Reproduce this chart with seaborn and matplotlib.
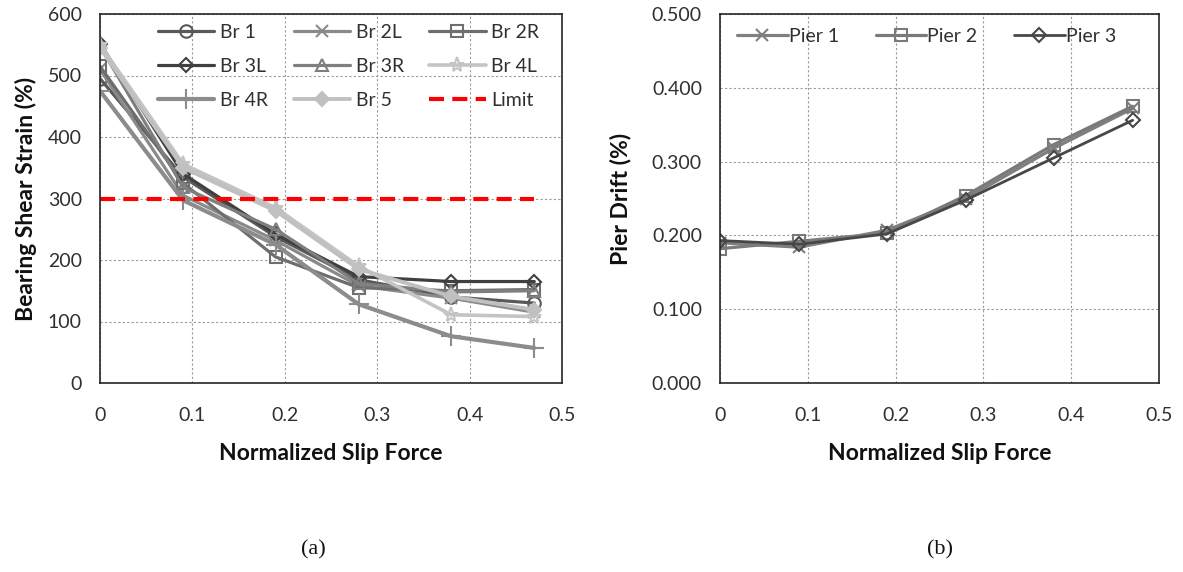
import matplotlib
matplotlib.use("Agg")
import matplotlib.pyplot as plt
import seaborn as sns
import numpy as np
import pandas as pd

# ---- data ----
slip_force = [0, 0.09, 0.19, 0.28, 0.38, 0.47]

br1 = [495, 335, 238, 168, 140, 130]
br2l = [510, 305, 232, 158, 138, 115]
br2r = [515, 325, 205, 155, 150, 152]
br3l = [552, 340, 242, 173, 165, 165]
br3r = [548, 318, 250, 162, 148, 150]
br4l = [550, 356, 285, 190, 111, 108]
br4r = [475, 297, 225, 128, 76, 57]
br5 = [545, 350, 280, 185, 141, 119]
limit_x = [0, 0.47]
limit_y = [300, 300]

pier1 = [0.190, 0.184, 0.207, 0.250, 0.318, 0.372]
pier2 = [0.182, 0.192, 0.203, 0.254, 0.323, 0.375]
pier3 = [0.193, 0.188, 0.202, 0.248, 0.305, 0.356]

bearing_names = ["Br 1", "Br 2L", "Br 2R", "Br 3L", "Br 3R", "Br 4L", "Br 4R", "Br 5"]
bearing_values = [br1, br2l, br2r, br3l, br3r, br4l, br4r, br5]
pier_names = ["Pier 1", "Pier 2", "Pier 3"]
pier_values = [pier1, pier2, pier3]

# ---- style ----
sns.set_theme(style="white")
plt.rcParams["font.family"] = ["Lato", "DejaVu Sans"]

TXT = "#303030"
bearing_styles = {
    "Br 1": dict(color="#595959", marker="o", mfc="none", ms=9, lw=2.3),
    "Br 2L": dict(color="#8a8a8a", marker="x", mfc="none", ms=9, lw=2.3),
    "Br 2R": dict(color="#6e6e6e", marker="s", mfc="none", ms=9, lw=2.3),
    "Br 3L": dict(color="#404040", marker="D", mfc="none", ms=7, lw=2.3),
    "Br 3R": dict(color="#7f7f7f", marker="^", mfc="none", ms=9, lw=2.3),
    "Br 4L": dict(color="#c4c4c4", marker="*", mfc="none", ms=11, lw=2.6),
    "Br 4R": dict(color="#8c8c8c", marker="+", mfc="none", ms=14, lw=3.0),
    "Br 5": dict(color="#c0c0c0", marker="D", mfc="#c0c0c0", ms=7, lw=2.8),
}
pier_styles = {
    "Pier 1": dict(color="#7f7f7f", marker="x", mfc="none", ms=9, lw=2.3),
    "Pier 2": dict(color="#7a7a7a", marker="s", mfc="none", ms=9, lw=2.3),
    "Pier 3": dict(color="#474747", marker="D", mfc="none", ms=7, lw=2.0),
}

fig = plt.figure(figsize=(11.83, 5.72), dpi=100)
W, H = 1183, 572
axL = fig.add_axes([100 / W, 1 - 383 / H, (562 - 100) / W, (383 - 14) / H])
axR = fig.add_axes([720 / W, 1 - 383 / H, (1159 - 720) / W, (383 - 14) / H])

for name, vals in zip(bearing_names, bearing_values):
    st = bearing_styles[name]
    sns.lineplot(x=slip_force, y=vals, ax=axL, color=st["color"], marker=st["marker"],
                 markerfacecolor=st["mfc"], markeredgecolor=st["color"], markersize=st["ms"],
                 markeredgewidth=1.5, linewidth=st["lw"], label=name)
sns.lineplot(x=limit_x, y=limit_y, ax=axL, color="#ff0000", linewidth=3, linestyle=(0, (3.6, 2.0)),
             label="Limit")

for name, vals in zip(pier_names, pier_values):
    st = pier_styles[name]
    sns.lineplot(x=slip_force, y=vals, ax=axR, color=st["color"], marker=st["marker"],
                 markerfacecolor=st["mfc"], markeredgecolor=st["color"], markersize=st["ms"],
                 markeredgewidth=1.5, linewidth=st["lw"], label=name)

for ax in (axL, axR):
    ax.set_xlim(0, 0.5)
    ax.set_xticks([0, 0.1, 0.2, 0.3, 0.4, 0.5])
    ax.set_xticklabels(["0", "0.1", "0.2", "0.3", "0.4", "0.5"])
    ax.grid(True, color="#9a9a9a", linestyle=(0, (2, 2)), linewidth=0.8)
    ax.set_axisbelow(True)
    for sp in ax.spines.values():
        sp.set_visible(True)
        sp.set_color("#262626")
        sp.set_linewidth(1.2)
    ax.tick_params(axis="both", labelsize=14, colors=TXT, length=0)
    ax.tick_params(axis="x", pad=17)
    ax.tick_params(axis="y", pad=13)
    ax.set_xlabel("Normalized Slip Force", fontsize=16.5, fontweight="bold", labelpad=14, color="#111111")

axL.set_ylim(0, 600)
axL.set_yticks([0, 100, 200, 300, 400, 500, 600])
axL.set_ylabel("Bearing Shear Strain (%)", fontsize=16.5, fontweight="bold", labelpad=8, color="#111111")

axR.set_ylim(0, 0.5)
axR.set_yticks([0, 0.1, 0.2, 0.3, 0.4, 0.5])
axR.set_yticklabels(["0.000", "0.100", "0.200", "0.300", "0.400", "0.500"])
axR.set_ylabel("Pier Drift (%)", fontsize=16.5, fontweight="bold", labelpad=15, color="#111111")

# legend filled row by row (3 columns)
hL, lL = axL.get_legend_handles_labels()
order = [0, 3, 6, 1, 4, 7, 2, 5, 8]
axL.legend([hL[i] for i in order], [lL[i] for i in order], ncol=3, loc="upper left",
           bbox_to_anchor=(158 / W, 1 - 24 / H), bbox_transform=fig.transFigure,
           frameon=False, fontsize=14, handlelength=2.9, columnspacing=1.3,
           handletextpad=0.3, labelspacing=0.88, borderpad=0, borderaxespad=0,
           labelcolor=TXT)
axR.legend(ncol=3, loc="upper left", bbox_to_anchor=(737 / W, 1 - 28 / H),
           bbox_transform=fig.transFigure, frameon=False, fontsize=14,
           handlelength=2.6, columnspacing=1.9, handletextpad=0.05,
           borderpad=0, borderaxespad=0, labelcolor=TXT)

fig.text(313 / W, 1 - 550 / H, "(a)", fontsize=16, ha="center", va="center",
         family=["Liberation Serif", "DejaVu Serif"], color="#111111")
fig.text(940 / W, 1 - 550 / H, "(b)", fontsize=16, ha="center", va="center",
         family=["Liberation Serif", "DejaVu Serif"], color="#111111")

fig.savefig("out.png", dpi=100, facecolor="white")
